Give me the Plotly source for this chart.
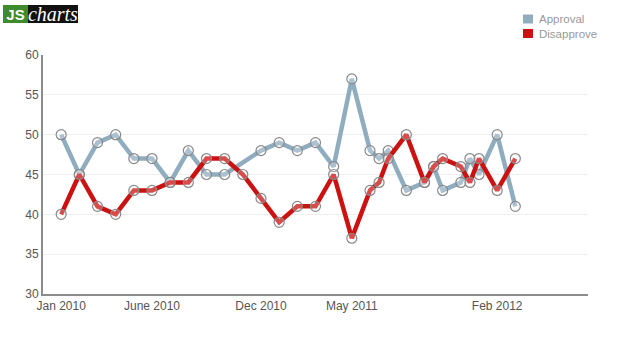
import plotly.graph_objects as go

# Poll series: month index (Jan 2010 = 1), half steps are mid-month polls
months = [1, 2, 3, 4, 5, 6, 7, 8, 9, 10, 11, 12, 13, 14, 15, 16, 17,
          18, 18.5, 19, 20, 21, 21.5, 22, 23, 23.5, 24, 25, 26]
approval = [50, 45, 49, 50, 47, 47, 44, 48, 45, 45, None, 48, 49, 48, 49, 46, 57,
            48, 47, 48, 43, 44, 46, 43, 44, 47, 45, 50, 41]
disapprove = [40, 45, 41, 40, 43, 43, 44, 44, 47, 47, 45, 42, 39, 41, 41, 45, 37,
              43, 44, 47, 50, 44, 46, 47, 46, 44, 47, 43, 47]

tick_pos = [1, 6, 12, 17, 25]
tick_text = ["Jan 2010", "June 2010", "Dec 2010", "May 2011", "Feb 2012"]
y_ticks = [30, 35, 40, 45, 50, 55, 60]

series_names = ["Approval", "Disapprove"]
APPROVAL_COLOR = "#8fadbf"
DISAPPROVE_COLOR = "#cc1111"
FONT = "Liberation Sans, Arial, sans-serif"

W, H = 618, 347
L, R, T, B = 43, 588, 55, 294


def px(x):
    return (x - L) / (R - L)


def py(y):
    return (B - y) / (B - T)


marker_style = dict(symbol="circle", size=10, color="rgba(255,255,255,0.25)",
                    line=dict(color="#888888", width=1.2))

fig = go.Figure()
fig.add_trace(go.Scatter(x=months, y=approval, mode="lines+markers", connectgaps=True,
                         name=series_names[0],
                         line=dict(color=APPROVAL_COLOR, width=4.5),
                         marker=marker_style, hoverinfo="x+y"))
fig.add_trace(go.Scatter(x=months, y=disapprove, mode="lines+markers",
                         name=series_names[1],
                         line=dict(color=DISAPPROVE_COLOR, width=4.5),
                         marker=marker_style, hoverinfo="x+y"))

fig.update_layout(
    width=W, height=H,
    margin=dict(l=L, r=W - R, t=T, b=H - B, autoexpand=False),
    paper_bgcolor="white", plot_bgcolor="white",
    font=dict(family=FONT, size=12, color="#555555"),
    showlegend=False,
    xaxis=dict(range=[0, 30], tickvals=tick_pos, ticktext=tick_text,
               showgrid=False, zeroline=False, showline=True,
               linecolor="#8c8c8c", linewidth=2, ticks="",
               tickfont=dict(size=12, color="#555555")),
    yaxis=dict(range=[30, 60], tickvals=y_ticks, showgrid=True,
               gridcolor="#eeeeee", gridwidth=1, zeroline=False,
               showline=True, linecolor="#8c8c8c", linewidth=2, ticks="",
               tickfont=dict(size=12, color="#555555")),
)

# Key in the top-right corner: colour swatch + series name
for i, (name, color) in enumerate(zip(series_names, [APPROVAL_COLOR, DISAPPROVE_COLOR])):
    cy = 19 + 14.5 * i
    fig.add_shape(type="rect", xref="paper", yref="paper",
                  x0=px(523), x1=px(533), y0=py(cy + 4.5), y1=py(cy - 4.5),
                  fillcolor=color, line=dict(width=0))
    fig.add_annotation(xref="paper", yref="paper", x=px(537), y=py(cy),
                       xanchor="left", yanchor="middle", text=name, showarrow=False,
                       font=dict(size=11.5, color="#999999"))

# Brand badge in the top-left corner
fig.add_annotation(xref="paper", yref="paper", x=px(3), y=py(5),
                   xanchor="left", yanchor="top", text="<b>JS</b>", showarrow=False,
                   width=25, height=18, bgcolor="#3d8b2a", borderwidth=0, borderpad=0,
                   font=dict(family="Liberation Sans, Arial", size=15, color="white"))
fig.add_annotation(xref="paper", yref="paper", x=px(28), y=py(5),
                   xanchor="left", yanchor="top", text="<i>charts</i>", showarrow=False,
                   width=50, height=18, bgcolor="#111111", borderwidth=0, borderpad=0,
                   font=dict(family="Liberation Serif, Times New Roman, serif",
                             size=20, color="white"))

fig.write_html("out.html")
